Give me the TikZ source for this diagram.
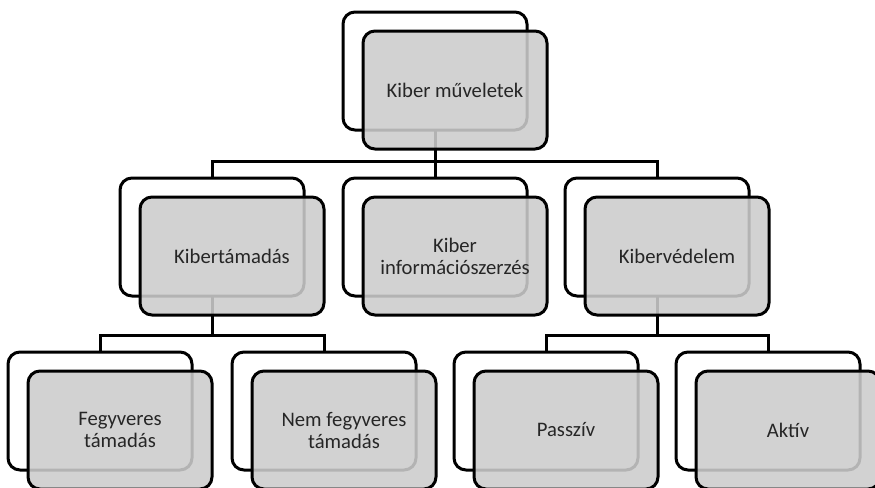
\documentclass[tikz,border=0pt]{standalone}
\usepackage{fontspec}
\setmainfont{Carlito}

\tikzset{
  back/.style={draw, line width=2.25pt, rounded corners=9pt, fill=white,
    minimum width=138pt, minimum height=88.5pt, inner sep=0pt, outer sep=0pt},
  front/.style={back, fill=black!20, fill opacity=0.88, text opacity=1,
    text=black!85, align=center, font=\fontsize{15.5}{16.5}\selectfont},
  tree/.style={line width=2.25pt}
}

\begin{document}
\begin{tikzpicture}[x=0.75pt, y=-0.75pt]
    \useasboundingbox (0,0) rectangle (875,487);
    \fill[white] (0,0) rectangle (875,487);

    % Back boxes
    \node[back] (top-b)   at (435,71)  {};
    \node[back] (att-b)   at (212,237) {};
    \node[back] (inf-b)   at (435,237) {};
    \node[back] (def-b)   at (657,237) {};
    \node[back] (arm-b)   at (100,411) {};
    \node[back] (noarm-b) at (324,411) {};
    \node[back] (pas-b)   at (546,411) {};
    \node[back] (act-b)   at (768,411) {};

    % Connectors
    \foreach \c in {att,inf,def}
        \draw[tree] (top-b.south) -- ++(0,31) -| (\c-b.north);
    \foreach \c in {arm,noarm}
        \draw[tree] (att-b.south) -- ++(0,39) -| (\c-b.north);
    \foreach \c in {pas,act}
        \draw[tree] (def-b.south) -- ++(0,39) -| (\c-b.north);

    % Front boxes
    \node[front] (top)   at ([shift={(20,19)}]top-b.center)   {Kiber műveletek};
    \node[front] (att)   at ([shift={(20,19)}]att-b.center)   {Kibertámadás};
    \node[front] (inf)   at ([shift={(20,19)}]inf-b.center)   {Kiber\\információszerzés};
    \node[front] (def)   at ([shift={(20,19)}]def-b.center)   {Kibervédelem};
    \node[front] (arm)   at ([shift={(20,19)}]arm-b.center)   {Fegyveres\\támadás};
    \node[front] (noarm) at ([shift={(20,19)}]noarm-b.center) {Nem fegyveres\\támadás};
    \node[front] (pas)   at ([shift={(20,19)}]pas-b.center)   {Passzív};
    \node[front] (act)   at ([shift={(20,19)}]act-b.center)   {Aktív};
\end{tikzpicture}
\end{document}
